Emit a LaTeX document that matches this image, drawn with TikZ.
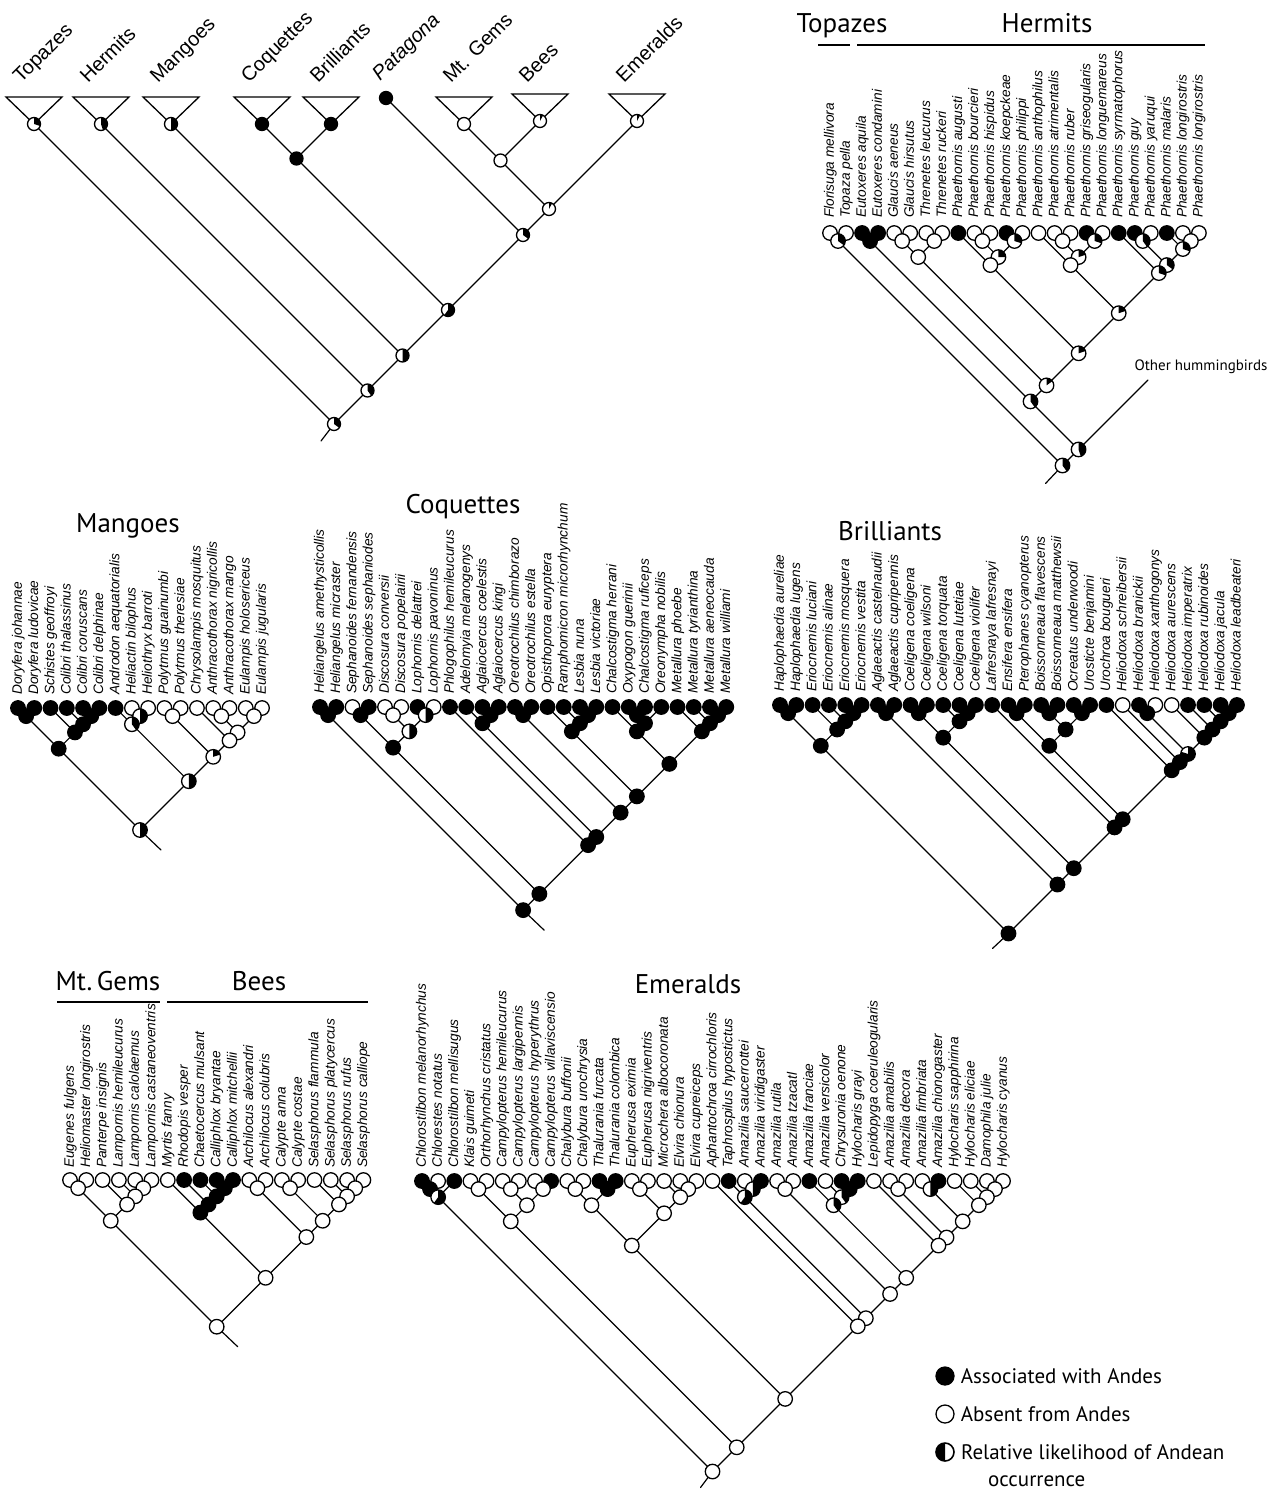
\documentclass[tikz,border=0pt]{standalone}
\usepackage{fontspec}
\setmainfont{Liberation Sans}
\newfontfamily\titlefam{PT Sans}
\usetikzlibrary{calc}
\pgfdeclarelayer{bg}
\pgfsetlayers{bg,main}
\newcommand\joinN[4]{%
  \path let \p1=(#2.center), \p2=(#3.center), \n1={((\x2-\x1)+(\y1-\y2))/2} in
    node[#4] (#1) at ({\x1+\n1*1pt},{\y1-\n1*1pt}) {};
  \begin{pgfonlayer}{bg}\draw[branch] (#2.center) -- (#1.center) -- (#3.center);\end{pgfonlayer}}
\newcommand\stemN[2]{%
  \begin{pgfonlayer}{bg}\draw[branch] (#1.center) -- (#2);\end{pgfonlayer}}
\tikzset{
  branch/.style={line width=1.2pt, line cap=round},
  nodeW/.style={circle, draw, line width=1.3pt, fill=white, minimum size=14.5pt, inner sep=0pt},
  nodeB/.style={nodeW, fill=black},
  nodeP/.style={nodeW, path picture={\fill[black] (path picture bounding box.center) -- ++(90:12pt) arc[start angle=90, end angle={90-360*#1}, radius=12pt] -- cycle;}},
  ov/.style={minimum size=13pt},
  sp/.style={font=\fontsize{13.7}{13.7}\selectfont\itshape, rotate=90, anchor=west, inner sep=0pt, text height=9pt, text depth=1.5pt},
  ttl/.style={font=\titlefam\fontsize{27}{27}\selectfont, inner sep=0pt, anchor=base},
  ovl/.style={font=\fontsize{20}{20}\selectfont, rotate=45, anchor=base west, inner sep=0pt},
  bar/.style={line width=1.6pt},
  lg/.style={font=\titlefam\fontsize{21}{21}\selectfont, inner sep=0pt, anchor=west},
}
\begin{document}
\begin{tikzpicture}[x=1pt,y=-1pt]
\useasboundingbox (0,0) rectangle (1281,1494);
\begin{pgfonlayer}{bg}
\fill[white] (0,0) rectangle (1281,1494);
\end{pgfonlayer}

% ================= Overview tree =================
\node[nodeP=0.3,ov] (oTop) at (34,124) {};
\node[nodeP=0.45,ov] (oHer) at (101,124) {};
\node[nodeP=0.5,ov] (oMan) at (171,124) {};
\node[nodeB,ov] (oCoq) at (262,124) {};
\node[nodeB,ov] (oBri) at (331,124) {};
\node[nodeB,ov] (oPat) at (386,98) {};
\node[nodeW,ov] (oMtg) at (464,124) {};
\node[nodeP=0.08,ov] (oBee) at (540,121) {};
\node[nodeP=0.08,ov] (oEme) at (637,121) {};
\begin{pgfonlayer}{bg}
\foreach \n in {oTop,oHer,oMan,oCoq,oBri,oMtg,oBee,oEme}
  \draw[line width=1.3pt, line join=miter] ($(\n.center)+(-28,-27)$) -- ($(\n.center)+(28,-27)$) -- (\n.center) -- cycle;
\end{pgfonlayer}
\node[ovl] (oTopL) at ($(oTop)+(-13,-40)$) {Topazes};
\node[ovl] (oHerL) at ($(oHer)+(-13,-40)$) {Hermits};
\node[ovl] (oManL) at ($(oMan)+(-13,-40)$) {Mangoes};
\node[ovl] (oCoqL) at ($(oCoq)+(-13,-40)$) {Coquettes};
\node[ovl] (oBriL) at ($(oBri)+(-13,-40)$) {Brilliants};
\node[ovl,font=\fontsize{20}{20}\selectfont\itshape] (oPatL) at ($(oPat)+(-6,-16)$) {Patagona};
\node[ovl] (oMtgL) at ($(oMtg)+(-13,-40)$) {Mt. Gems};
\node[ovl] (oBeeL) at ($(oBee)+(-13,-37)$) {Bees};
\node[ovl] (oEmeL) at ($(oEme)+(-13,-37)$) {Emeralds};
\joinN{oCB}{oCoq}{oBri}{nodeB,ov}
\joinN{oMB}{oMtg}{oBee}{nodeW,ov}
\joinN{oMBE}{oMB}{oEme}{nodeP=0.08,ov}
\joinN{oPt}{oPat}{oMBE}{nodeP=0.35,ov}
\joinN{oX1}{oCB}{oPt}{nodeP=0.6,ov}
\joinN{oX2}{oMan}{oX1}{nodeP=0.5,ov}
\joinN{oX3}{oHer}{oX2}{nodeP=0.4,ov}
\joinN{oR}{oTop}{oX3}{nodeP=0.35,ov}
\coordinate (oStem) at ($(oR)+(-13,17)$);
\stemN{oR}{oStem}

% ================= Hermits panel =================
\node[ttl] (tTop) at (842,32) {Topazes};
\node[ttl] (tHer) at (1047,32) {Hermits};
\draw[bar] (818,45) -- (850,45);
\draw[bar] (857,45) -- (1205,45);
\foreach \f/\lab [count=\i] in {nodeW/Florisuga mellivora, nodeW/Topaza pella, nodeB/Eutoxeres aquila, nodeB/Eutoxeres condamini, nodeW/Glaucis aeneus, nodeW/Glaucis hirsutus, nodeW/Threnetes leucurus, nodeW/Threnetes ruckeri, nodeB/Phaethornis augusti, nodeW/Phaethornis bourcieri, nodeW/Phaethornis hispidus, nodeB/Phaethornis koepckeae, nodeW/Phaethornis philippi, nodeW/Phaethornis anthophilus, nodeW/Phaethornis atrimentalis, nodeW/Phaethornis ruber, nodeB/Phaethornis griseogularis, nodeW/Phaethornis longuemareus, nodeB/Phaethornis syrmatophorus, nodeB/Phaethornis guy, nodeW/Phaethornis yaruqui, nodeB/Phaethornis malaris, nodeW/Phaethornis longirostris, nodeW/Phaethornis longirostris} {
  \node[\f] (h\i) at ({830+16.04*(\i-1)},233) {};
  \node[sp] (hl\i) at ([yshift=15pt]h\i.center) {\lab};
}
\joinN{hA}{h1}{h2}{nodeP=0.35}
\joinN{hB}{h3}{h4}{nodeB}
\joinN{hC1}{h5}{h6}{nodeW}
\joinN{hC2}{h7}{h8}{nodeW}
\joinN{hC}{hC1}{hC2}{nodeW}
\joinN{hD1}{h10}{h11}{nodeW}
\joinN{hD2}{h12}{h13}{nodeP=0.3}
\joinN{hD3}{hD1}{hD2}{nodeP=0.25}
\joinN{hD}{h9}{hD3}{nodeW}
\joinN{hE1}{h15}{h16}{nodeW}
\joinN{hE2}{h17}{h18}{nodeP=0.3}
\joinN{hE3}{hE1}{hE2}{nodeP=0.2}
\joinN{hE}{h14}{hE3}{nodeW}
\joinN{hF1}{h20}{h21}{nodeP=0.4}
\joinN{hF2}{h23}{h24}{nodeW}
\joinN{hF3}{h22}{hF2}{nodeP=0.3}
\joinN{hF4}{hF1}{hF3}{nodeP=0.35}
\joinN{hF}{h19}{hF4}{nodeP=0.3}
\joinN{hG}{hE}{hF}{nodeP=0.2}
\joinN{hH}{hD}{hG}{nodeP=0.2}
\joinN{hI}{hC}{hH}{nodeP=0.15}
\joinN{hK}{hB}{hI}{nodeP=0.4}
\coordinate (hOther) at (1148,380);
\joinN{hL}{hK}{hOther}{nodeP=0.45}
\joinN{hR}{hA}{hL}{nodeP=0.4}
\coordinate (hStem) at ($(hR)+(-17,18)$);
\stemN{hR}{hStem}
\node[font=\titlefam\fontsize{15}{15}\selectfont, anchor=base, inner sep=0pt] (hOtherL) at (1201,370) {Other hummingbirds};

% ================= Mangoes =================
\node[ttl] (tMan) at (128,532) {Mangoes};
\foreach \f/\lab [count=\i] in {nodeB/Doryfera johannae, nodeB/Doryfera ludovicae, nodeB/Schistes geoffroyi, nodeB/Colibri thalassinus, nodeB/Colibri coruscans, nodeB/Colibri delphinae, nodeB/Androdon aequatorialis, nodeW/Heliactin bilophus, nodeW/Heliothryx barroti, nodeW/Polytmus guainumbi, nodeW/Polytmus theresiae, nodeW/Chrysolampis mosquitus, nodeW/Anthracothorax nigricollis, nodeW/Anthracothorax mango, nodeW/Eulampis holosericeus, nodeW/Eulampis jugularis} {
  \node[\f] (m\i) at ({18+16.27*(\i-1)},708) {};
  \node[sp] (ml\i) at ([yshift=13pt]m\i.center) {\lab};
}
\joinN{mA}{m1}{m2}{nodeB}
\joinN{mC1}{m5}{m6}{nodeB}
\joinN{mC2}{m4}{mC1}{nodeB}
\joinN{mC}{m3}{mC2}{nodeB}
\joinN{mD}{mA}{mC}{nodeB}
\joinN{mH1}{m8}{m9}{nodeP=0.5}
\joinN{mH}{m7}{mH1}{nodeP=0.4}
\joinN{mP1}{m10}{m11}{nodeW}
\joinN{mP2}{m13}{m14}{nodeW}
\joinN{mP3}{m15}{m16}{nodeW}
\joinN{mP4}{mP2}{mP3}{nodeW}
\joinN{mP5}{m12}{mP4}{nodeW}
\joinN{mP}{mP1}{mP5}{nodeP=0.2}
\joinN{mQ}{mH}{mP}{nodeP=0.5}
\joinN{mR}{mD}{mQ}{nodeP=0.5}
\coordinate (mStem) at ($(mR)+(21,20)$);
\stemN{mR}{mStem}

% ================= Coquettes =================
\node[ttl] (tCoq) at (463,513) {Coquettes};
\foreach \f/\lab [count=\i] in {nodeB/Heliangelus amethysticollis, nodeB/Heliangelus micraster, nodeW/Sephanoides fernandensis, nodeB/Sephanoides sephaniodes, nodeW/Discosura conversii, nodeW/Discosura popelairii, nodeB/Lophornis delattrei, nodeW/Lophornis pavoninus, nodeB/Phlogophilus hemileucurus, nodeB/Adelomyia melanogenys, nodeB/Aglaiocercus coelestis, nodeB/Aglaiocercus kingi, nodeB/Oreotrochilus chimborazo, nodeB/Oreotrochilus estella, nodeB/Opisthoprora euryptera, nodeB/Ramphomicron microrhynchum, nodeB/Lesbia nuna, nodeB/Lesbia victoriae, nodeB/Chalcostigma herrani, nodeB/Oxypogon guerinii, nodeB/Chalcostigma ruficeps, nodeB/Oreonympha nobilis, nodeB/Metallura phoebe, nodeB/Metallura tyrianthina, nodeB/Metallura aeneocauda, nodeB/Metallura williami} {
  \node[\f] (c\i) at ({320+16.25*(\i-1)},707) {};
  \node[sp] (cl\i) at ([yshift=13pt]c\i.center) {\lab};
}
\joinN{cA}{c1}{c2}{nodeB}
\joinN{cS}{c3}{c4}{nodeB}
\joinN{cD}{c5}{c6}{nodeW}
\joinN{cL}{c7}{c8}{nodeP=0.5}
\joinN{cDL}{cD}{cL}{nodeP=0.5}
\joinN{cSDL}{cS}{cDL}{nodeB}
\joinN{cAg}{c11}{c12}{nodeB}
\joinN{cAd}{c10}{cAg}{nodeB}
\joinN{cOr}{c13}{c14}{nodeB}
\joinN{cLe}{c17}{c18}{nodeB}
\joinN{cRL}{c16}{cLe}{nodeB}
\joinN{cOp}{c15}{cRL}{nodeB}
\joinN{cCh1}{c20}{c21}{nodeB}
\joinN{cCh2}{cCh1}{c22}{nodeB}
\joinN{cCh}{c19}{cCh2}{nodeB}
\joinN{cM1}{c25}{c26}{nodeB}
\joinN{cM2}{c24}{cM1}{nodeB}
\joinN{cM}{c23}{cM2}{nodeB}
\joinN{cChM}{cCh}{cM}{nodeB}
\joinN{cX1}{cOp}{cChM}{nodeB}
\joinN{cX2}{cOr}{cX1}{nodeB}
\joinN{cX3}{cAd}{cX2}{nodeB}
\joinN{cX4}{c9}{cX3}{nodeB}
\joinN{cX5}{cSDL}{cX4}{nodeB}
\joinN{cR}{cA}{cX5}{nodeB}
\coordinate (cStem) at ($(cR)+(21,20)$);
\stemN{cR}{cStem}

% ================= Brilliants =================
\node[ttl] (tBri) at (890,540) {Brilliants};
\foreach \f/\lab [count=\i] in {nodeB/Haplophaedia aureliae, nodeB/Haplophaedia lugens, nodeB/Eriocnemis luciani, nodeB/Eriocnemis alinae, nodeB/Eriocnemis mosquera, nodeB/Eriocnemis vestita, nodeB/Aglaeactis castelnaudii, nodeB/Aglaeactis cupripennis, nodeB/Coeligena coeligena, nodeB/Coeligena wilsoni, nodeB/Coeligena torquata, nodeB/Coeligena lutetiae, nodeB/Coeligena violifer, nodeB/Lafresnaya lafresnayi, nodeB/Ensifera ensifera, nodeB/Pterophanes cyanopterus, nodeB/Boissonneaua flavescens, nodeB/Boissonneaua matthewsii, nodeB/Ocreatus underwoodi, nodeB/Urosticte benjamini, nodeB/Urochroa bougueri, nodeW/Heliodoxa schreibersii, nodeB/Heliodoxa branickii, nodeW/Heliodoxa xanthogonys, nodeW/Heliodoxa aurescens, nodeB/Heliodoxa imperatrix, nodeB/Heliodoxa rubinoides, nodeB/Heliodoxa jacula, nodeB/Heliodoxa leadbeateri} {
  \node[\f] (b\i) at ({780+16.32*(\i-1)},705) {};
  \node[sp] (bl\i) at ([yshift=13pt]b\i.center) {\lab};
}
\joinN{bH}{b1}{b2}{nodeB}
\joinN{bE1}{b5}{b6}{nodeB}
\joinN{bE2}{b4}{bE1}{nodeB}
\joinN{bE}{b3}{bE2}{nodeB}
\joinN{bHE}{bH}{bE}{nodeB}
\joinN{bAg}{b7}{b8}{nodeB}
\joinN{bC1}{b9}{b10}{nodeB}
\joinN{bC2}{b12}{b13}{nodeB}
\joinN{bC3}{b11}{bC2}{nodeB}
\joinN{bC}{bC1}{bC3}{nodeB}
\joinN{bEP}{b15}{b16}{nodeB}
\joinN{bBo}{b17}{b18}{nodeB}
\joinN{bOU}{b19}{b20}{nodeB}
\joinN{bBOU}{bBo}{bOU}{nodeB}
\joinN{bEB}{bEP}{bBOU}{nodeB}
\joinN{bHx1}{b23}{b24}{nodeB}
\joinN{bHx2}{b28}{b29}{nodeB}
\joinN{bHx3}{b27}{bHx2}{nodeB}
\joinN{bHx4}{b26}{bHx3}{nodeB}
\joinN{bHx5}{b25}{bHx4}{nodeB}
\joinN{bHx6}{bHx1}{bHx5}{nodeP=0.8}
\joinN{bHx7}{b22}{bHx6}{nodeB}
\joinN{bHx}{b21}{bHx7}{nodeB}
\joinN{bY1}{bEB}{bHx}{nodeB}
\joinN{bY2}{b14}{bY1}{nodeB}
\joinN{bY3}{bC}{bY2}{nodeB}
\joinN{bY4}{bAg}{bY3}{nodeB}
\joinN{bR}{bHE}{bY4}{nodeB}
\coordinate (bStem) at ($(bR)+(-16,15)$);
\stemN{bR}{bStem}

% ================= Mt. Gems / Bees =================
\node[ttl] (tMtg) at (108,990) {Mt.\,Gems};
\node[ttl] (tBee) at (259,990) {Bees};
\draw[bar] (57,1002) -- (160,1002);
\draw[bar] (167,1002) -- (368,1002);
\foreach \f/\lab [count=\i] in {nodeW/Eugenes fulgens, nodeW/Heliomaster longirostris, nodeW/Panterpe insignis, nodeW/Lampornis hemileucurus, nodeW/Lampornis calolaemus, nodeW/Lampornis castaneoventris, nodeW/Myrtis fanny, nodeB/Rhodopis vesper, nodeB/Chaetocercus mulsant, nodeB/Calliphlox bryantae, nodeB/Calliphlox mitchellii, nodeW/Archilocus alexandri, nodeW/Archilocus colubris, nodeW/Calypte anna, nodeW/Calypte costae, nodeW/Selasphorus flammula, nodeW/Selasphorus platycercus, nodeW/Selasphorus rufus, nodeW/Selasphorus calliope} {
  \node[\f] (g\i) at ({70+16.3*(\i-1)},1180) {};
  \node[sp] (gl\i) at ([yshift=12pt]g\i.center) {\lab};
}
\joinN{gA}{g1}{g2}{nodeW}
\joinN{gL1}{g5}{g6}{nodeW}
\joinN{gL}{g4}{gL1}{nodeW}
\joinN{gPL}{g3}{gL}{nodeW}
\joinN{gM}{gA}{gPL}{nodeW}
\joinN{gB1}{g10}{g11}{nodeB}
\joinN{gB2}{g9}{gB1}{nodeB}
\joinN{gB3}{g8}{gB2}{nodeB}
\joinN{gB4}{g7}{gB3}{nodeB}
\joinN{gAr}{g12}{g13}{nodeW}
\joinN{gCa}{g14}{g15}{nodeW}
\joinN{gS1}{g18}{g19}{nodeW}
\joinN{gS2}{g17}{gS1}{nodeW}
\joinN{gS}{g16}{gS2}{nodeW}
\joinN{gCS}{gCa}{gS}{nodeW}
\joinN{gACS}{gAr}{gCS}{nodeW}
\joinN{gBees}{gB4}{gACS}{nodeW}
\joinN{gR}{gM}{gBees}{nodeW}
\coordinate (gStem) at ($(gR)+(21,20)$);
\stemN{gR}{gStem}

% ================= Emeralds =================
\node[ttl] (tEme) at (688,993) {Emeralds};
\foreach \f/\lab [count=\i] in {nodeB/Chlorostilbon melanorhynchus, nodeW/Chlorestes notatus, nodeB/Chlorostilbon mellisugus, nodeW/Klais guimeti, nodeW/Orthorhynchus cristatus, nodeW/Campylopterus hemileucurus, nodeW/Campylopterus largipennis, nodeW/Campylopterus hyperythrus, nodeB/Campylopterus villaviscensio, nodeW/Chalybura buffonii, nodeW/Chalybura urochrysia, nodeB/Thalurania furcata, nodeB/Thalurania colombica, nodeW/Eupherusa eximia, nodeW/Eupherusa nigriventris, nodeW/Microchera albocoronata, nodeW/Elvira chionura, nodeW/Elvira cupreiceps, nodeW/Aphantochroa cirrochloris, nodeB/Taphrospilus hypostictus, nodeW/Amazilia saucerrottei, nodeB/Amazilia viridigaster, nodeW/Amazilia rutila, nodeW/Amazilia tzacatl, nodeB/Amazilia franciae, nodeW/Amazilia versicolor, nodeB/Chrysuronia oenone, nodeB/Hylocharis grayi, nodeW/Lepidopyga coeruleogularis, nodeW/Amazilia amabilis, nodeW/Amazilia decora, nodeW/Amazilia fimbriata, nodeB/Amazilia chionogaster, nodeW/Hylocharis sapphirina, nodeW/Hylocharis eliciae, nodeW/Damophila julie, nodeW/Hylocharis cyanus} {
  \node[\f] (e\i) at ({422+16.14*(\i-1)},1181) {};
  \node[sp] (el\i) at ([yshift=13pt]e\i.center) {\lab};
}
\joinN{eC1}{e1}{e2}{nodeB}
\joinN{eC}{eC1}{e3}{nodeP=0.6}
\joinN{eKO}{e4}{e5}{nodeW}
\joinN{eCa1}{e6}{e7}{nodeW}
\joinN{eCa2}{e8}{e9}{nodeW}
\joinN{eCa}{eCa1}{eCa2}{nodeW}
\joinN{eK}{eKO}{eCa}{nodeW}
\joinN{eCh}{e10}{e11}{nodeW}
\joinN{eTh}{e12}{e13}{nodeB}
\joinN{eCT}{eCh}{eTh}{nodeW}
\joinN{eEu}{e14}{e15}{nodeW}
\joinN{eEl}{e17}{e18}{nodeW}
\joinN{eMEl}{e16}{eEl}{nodeW}
\joinN{eEM}{eEu}{eMEl}{nodeW}
\joinN{eCE}{eCT}{eEM}{nodeW}
\joinN{eAm1}{e21}{e22}{nodeP=0.5}
\joinN{eAm2}{e20}{eAm1}{nodeP=0.6}
\joinN{eRT}{e23}{e24}{nodeW}
\joinN{eGr}{e27}{e28}{nodeB}
\joinN{eVG}{e26}{eGr}{nodeP=0.4}
\joinN{eFr}{e25}{eVG}{nodeP=0.4}
\joinN{eAD}{e30}{e31}{nodeW}
\joinN{eH1}{e36}{e37}{nodeW}
\joinN{eH2}{e35}{eH1}{nodeW}
\joinN{eH3}{e34}{eH2}{nodeW}
\joinN{eFC}{e32}{e33}{nodeP=0.5}
\joinN{eH4}{eFC}{eH3}{nodeW}
\joinN{eH5}{eAD}{eH4}{nodeW}
\joinN{eH6}{e29}{eH5}{nodeW}
\joinN{eH7}{eFr}{eH6}{nodeW}
\joinN{eH8}{eRT}{eH7}{nodeW}
\joinN{eH9}{eAm2}{eH8}{nodeW}
\joinN{eH10}{e19}{eH9}{nodeW}
\joinN{eY}{eCE}{eH10}{nodeW}
\joinN{eZ}{eK}{eY}{nodeW}
\joinN{eR}{eC}{eZ}{nodeW}
\coordinate (eStem) at ($(eR)+(-12,16)$);
\stemN{eR}{eStem}

% ================= Legend =================
\node[nodeB, minimum size=18pt] (lgB) at (945,1376) {};
\node[nodeW, minimum size=18pt] (lgW) at (945,1414) {};
\node[nodeW, minimum size=18pt, line width=1.6pt, path picture={\fill[black] (path picture bounding box.center) -- ++(90:12pt) arc[start angle=90, end angle=270, radius=12pt] -- cycle;}] (lgP) at (945,1452) {};
\node[lg] (lgBt) at ([xshift=6pt]lgB.east) {Associated with Andes};
\node[lg] (lgWt) at ([xshift=6pt]lgW.east) {Absent from Andes};
\node[lg] (lgPt) at ([xshift=6pt]lgP.east) {Relative likelihood of Andean};
\node[lg, anchor=base west] (lgPt2) at (988,1486) {occurrence};
\end{tikzpicture}
\end{document}
